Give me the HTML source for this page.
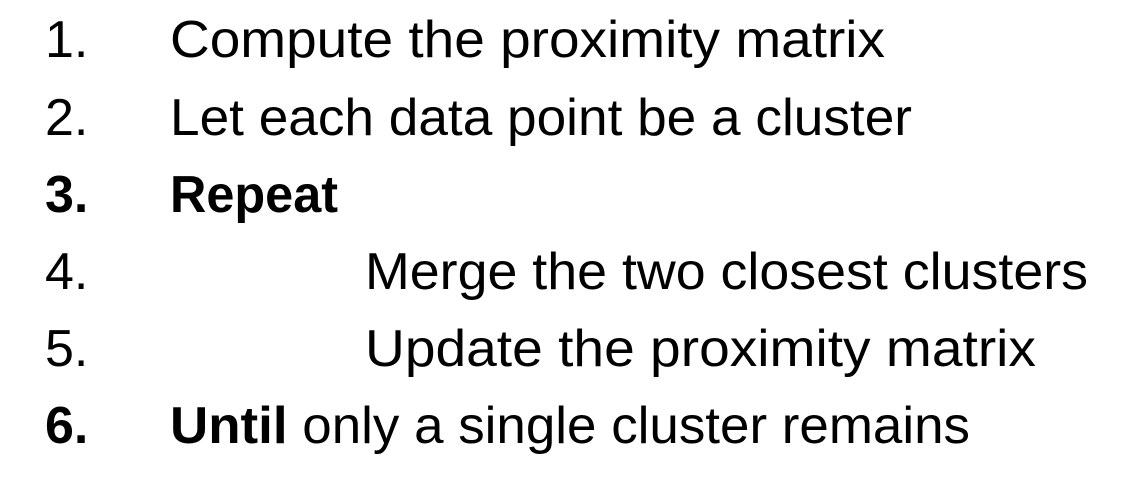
<!DOCTYPE html>
<html>
<head>
<meta charset="utf-8">
<style>
  html,body{margin:0;padding:0;background:#fff;}
  svg{display:block;}
  text{font-family:"Liberation Sans",sans-serif;font-size:52px;fill:#000;}
  .b{font-weight:bold;}
</style>
</head>
<body>
<svg width="1134" height="490" viewBox="0 0 1134 490" xmlns="http://www.w3.org/2000/svg">
  <text x="45" y="57">1.</text>
  <text x="170" y="57" textLength="715" lengthAdjust="spacingAndGlyphs">Compute the proximity matrix</text>

  <text x="45" y="135">2.</text>
  <text x="170" y="135" textLength="742" lengthAdjust="spacingAndGlyphs">Let each data point be a cluster</text>

  <text x="45" y="212" class="b">3.</text>
  <text x="170" y="212" class="b" textLength="168" lengthAdjust="spacingAndGlyphs">Repeat</text>

  <text x="45" y="289">4.</text>
  <text x="365" y="289" textLength="723" lengthAdjust="spacingAndGlyphs">Merge the two closest clusters</text>

  <text x="45" y="366">5.</text>
  <text x="365" y="366" textLength="671" lengthAdjust="spacingAndGlyphs">Update the proximity matrix</text>

  <text x="45" y="443" class="b">6.</text>
  <text x="170" y="443" textLength="800" lengthAdjust="spacingAndGlyphs"><tspan class="b">Until</tspan> only a single cluster remains</text>
</svg>
</body>
</html>
